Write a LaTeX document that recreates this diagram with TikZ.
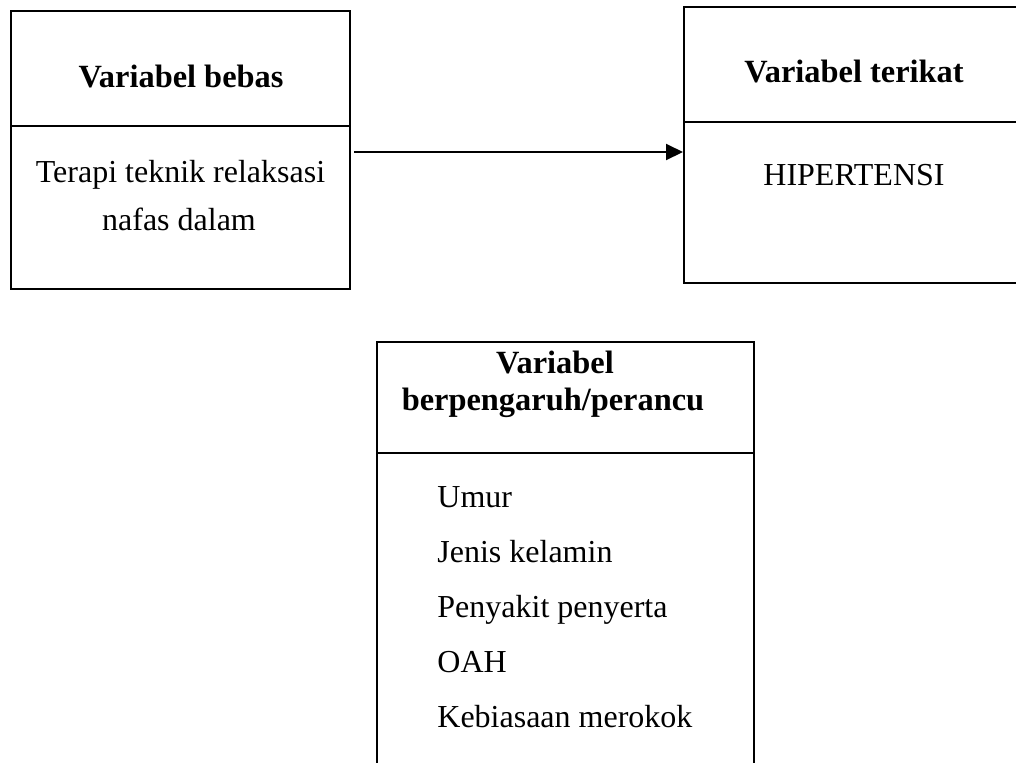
\documentclass[tikz,border=0pt]{standalone}
\usepackage{fontspec}
\setmainfont{Liberation Serif}
\usetikzlibrary{arrows.meta}
\begin{document}
\begin{tikzpicture}[x=0.5pt,y=-0.5pt,
  txt/.style={inner sep=0pt,anchor=base,font=\fontsize{16pt}{18pt}\selectfont},
  btxt/.style={txt,font=\fontsize{16.2pt}{18pt}\selectfont\bfseries},
  ltxt/.style={txt,anchor=base west},
  frame/.style={draw,line width=1pt,inner sep=0pt},
  rule/.style={line width=1pt},
  link/.style={line width=1pt,-{Triangle[length=8.5pt,width=8pt]}}]
\useasboundingbox (0,0) rectangle (1016,762);
\clip (0,0) rectangle (1016,762);
% left box
\node[frame,minimum width=169.5pt,minimum height=139pt] (lbox) at (180.5,150) {};
\draw[rule] (11,126) coordinate (ldl) -- (350,126) coordinate (ldr);
\node[btxt] (lh) at (181,87) {Variabel bebas};
\node[txt] (l1) at (180.5,182) {Terapi teknik relaksasi};
\node[txt] (l2) at (179,230) {nafas dalam};
% right box
\node[frame,minimum width=170pt,minimum height=138pt] (rbox) at (854,145) {};
\draw[rule] (684,122) coordinate (rdl) -- (1024,122) coordinate (rdr);
\node[btxt] (rh) at (854,82) {Variabel terikat};
\node[txt] (r1) at (854,185) {HIPERTENSI};
% arrow
\coordinate (as) at (354,152);
\draw[link] (as) -- (as -| rbox.west);
% bottom box
\node[frame,minimum width=188.5pt,minimum height=229pt] (bbox) at (565.5,571) {};
\draw[rule] (377,453) coordinate (bdl) -- (754,453) coordinate (bdr);
\node[btxt] (bh1) at (555,373) {Variabel};
\node[btxt] (bh2) at (553,410) {berpengaruh/perancu};
\node[ltxt] (b1) at (437,507) {Umur};
\node[ltxt] (b2) at (437,562) {Jenis kelamin};
\node[ltxt] (b3) at (437,617) {Penyakit penyerta};
\node[ltxt] (b4) at (437,672) {OAH};
\node[ltxt] (b5) at (437,727) {Kebiasaan merokok};
\end{tikzpicture}
\end{document}
